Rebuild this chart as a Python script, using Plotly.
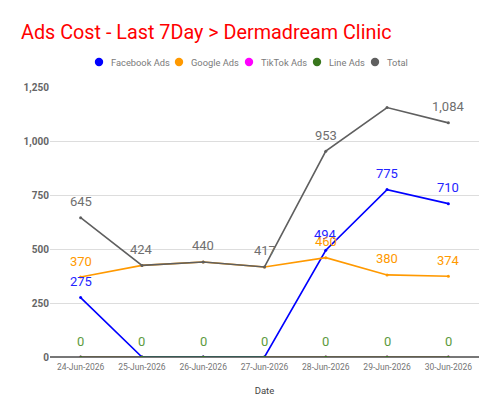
import plotly.graph_objects as go

dates = ["24-Jun-2026", "25-Jun-2026", "26-Jun-2026", "27-Jun-2026",
         "28-Jun-2026", "29-Jun-2026", "30-Jun-2026"]
facebook = [275, 0, 0, 0, 494, 775, 710]
google = [370, 424, 440, 417, 460, 380, 374]
tiktok = [0, 0, 0, 0, 0, 0, 0]
line_ads = [0, 0, 0, 0, 0, 0, 0]
total = [645, 424, 440, 417, 953, 1155, 1084]

# which labels are visible (overlapping ones hidden in the reference)
fb_show = [True, False, False, False, True, True, True]
gg_show = [True, False, False, False, True, True, True]
tk_show = [False] * 7
ln_show = [True] * 7
tt_show = [True, True, True, True, True, False, True]

series = [
    ("Facebook Ads", facebook, "#0000ff", "#2323ff", fb_show),
    ("Google Ads", google, "#ff9900", "#ff9900", gg_show),
    ("TikTok Ads", tiktok, "#ff00ff", "#ff00ff", tk_show),
    ("Line Ads", line_ads, "#38761d", "#5d9b3d", ln_show),
    ("Total", total, "#5f5f5f", "#6f6f6f", tt_show),
]
legend_px = [99, 179, 249, 317, 375]  # legend symbol centres (pixels)

PL, PR, PT, PB = 50, 21, 87, 58
W, H = 500, 415
pw, ph = W - PL - PR, H - PT - PB
LEG_Y = 62

fig = go.Figure()
annotations = []
shapes = []
draw_order = [2, 0, 3, 1, 4]
for idx in draw_order:
    name, vals, col, lcol, show = series[idx]
    fig.add_trace(go.Scatter(
        x=dates, y=vals, mode="lines+markers", name=name,
        line=dict(color=col, width=1.6),
        marker=dict(color=col, size=3),
        showlegend=False, hoverinfo="skip"))

ly = 1 + (PT - LEG_Y) / ph
for i, (name, vals, col, lcol, show) in enumerate(series):
    lx = (legend_px[i] - PL) / pw
    shapes.append(dict(
        type="circle", xref="paper", yref="paper",
        xsizemode="pixel", ysizemode="pixel", xanchor=lx, yanchor=ly,
        x0=-4.2, x1=4.2, y0=-4.2, y1=4.2,
        fillcolor=col, line=dict(width=0)))
    annotations.append(dict(
        x=(legend_px[i] + 10 - PL) / pw, y=ly, xref="paper", yref="paper",
        xanchor="left", yanchor="middle", text=name, showarrow=False,
        font=dict(family="Roboto", size=9.3, color="#7a7a7a")))
    for d, v, s in zip(dates, vals, show):
        if s:
            annotations.append(dict(
                x=d, y=v, xref="x", yref="y", text=f"{v:,}", showarrow=False,
                yanchor="middle", yshift=16,
                font=dict(family="Roboto", size=13, color=lcol)))

fig.update_layout(
    width=W, height=H,
    margin=dict(l=PL, r=PR, t=PT, b=PB),
    paper_bgcolor="white", plot_bgcolor="white",
    font=dict(family="Roboto", color="#666666"),
    showlegend=False,
    title=dict(text="Ads Cost - Last 7Day > Dermadream Clinic",
               x=21 / W, xanchor="left", y=1 - 32 / H, yanchor="middle",
               font=dict(family="Roboto", size=19.8, color="#ff0000")),
    annotations=annotations,
    shapes=shapes,
)
fig.update_xaxes(
    type="category", range=[-0.5, 6.5],
    showgrid=False, showline=False, zeroline=False,
    ticks="", ticklabelstandoff=3,
    tickfont=dict(family="Roboto", size=8.5, color="#757575"),
    title=dict(text="Date", font=dict(family="Roboto", size=9.5, color="#444444"), standoff=16),
)
fig.update_yaxes(
    range=[0, 1250], tickvals=[0, 250, 500, 750, 1000, 1250],
    tickformat=",d", showgrid=True, gridcolor="#dddddd", gridwidth=1,
    zeroline=True, zerolinecolor="#777777", zerolinewidth=1.5,
    tickfont=dict(family="Roboto", size=10, color="#666666", weight="bold"),
    ticks="", ticklen=0,
)
fig.write_html("out.html")
